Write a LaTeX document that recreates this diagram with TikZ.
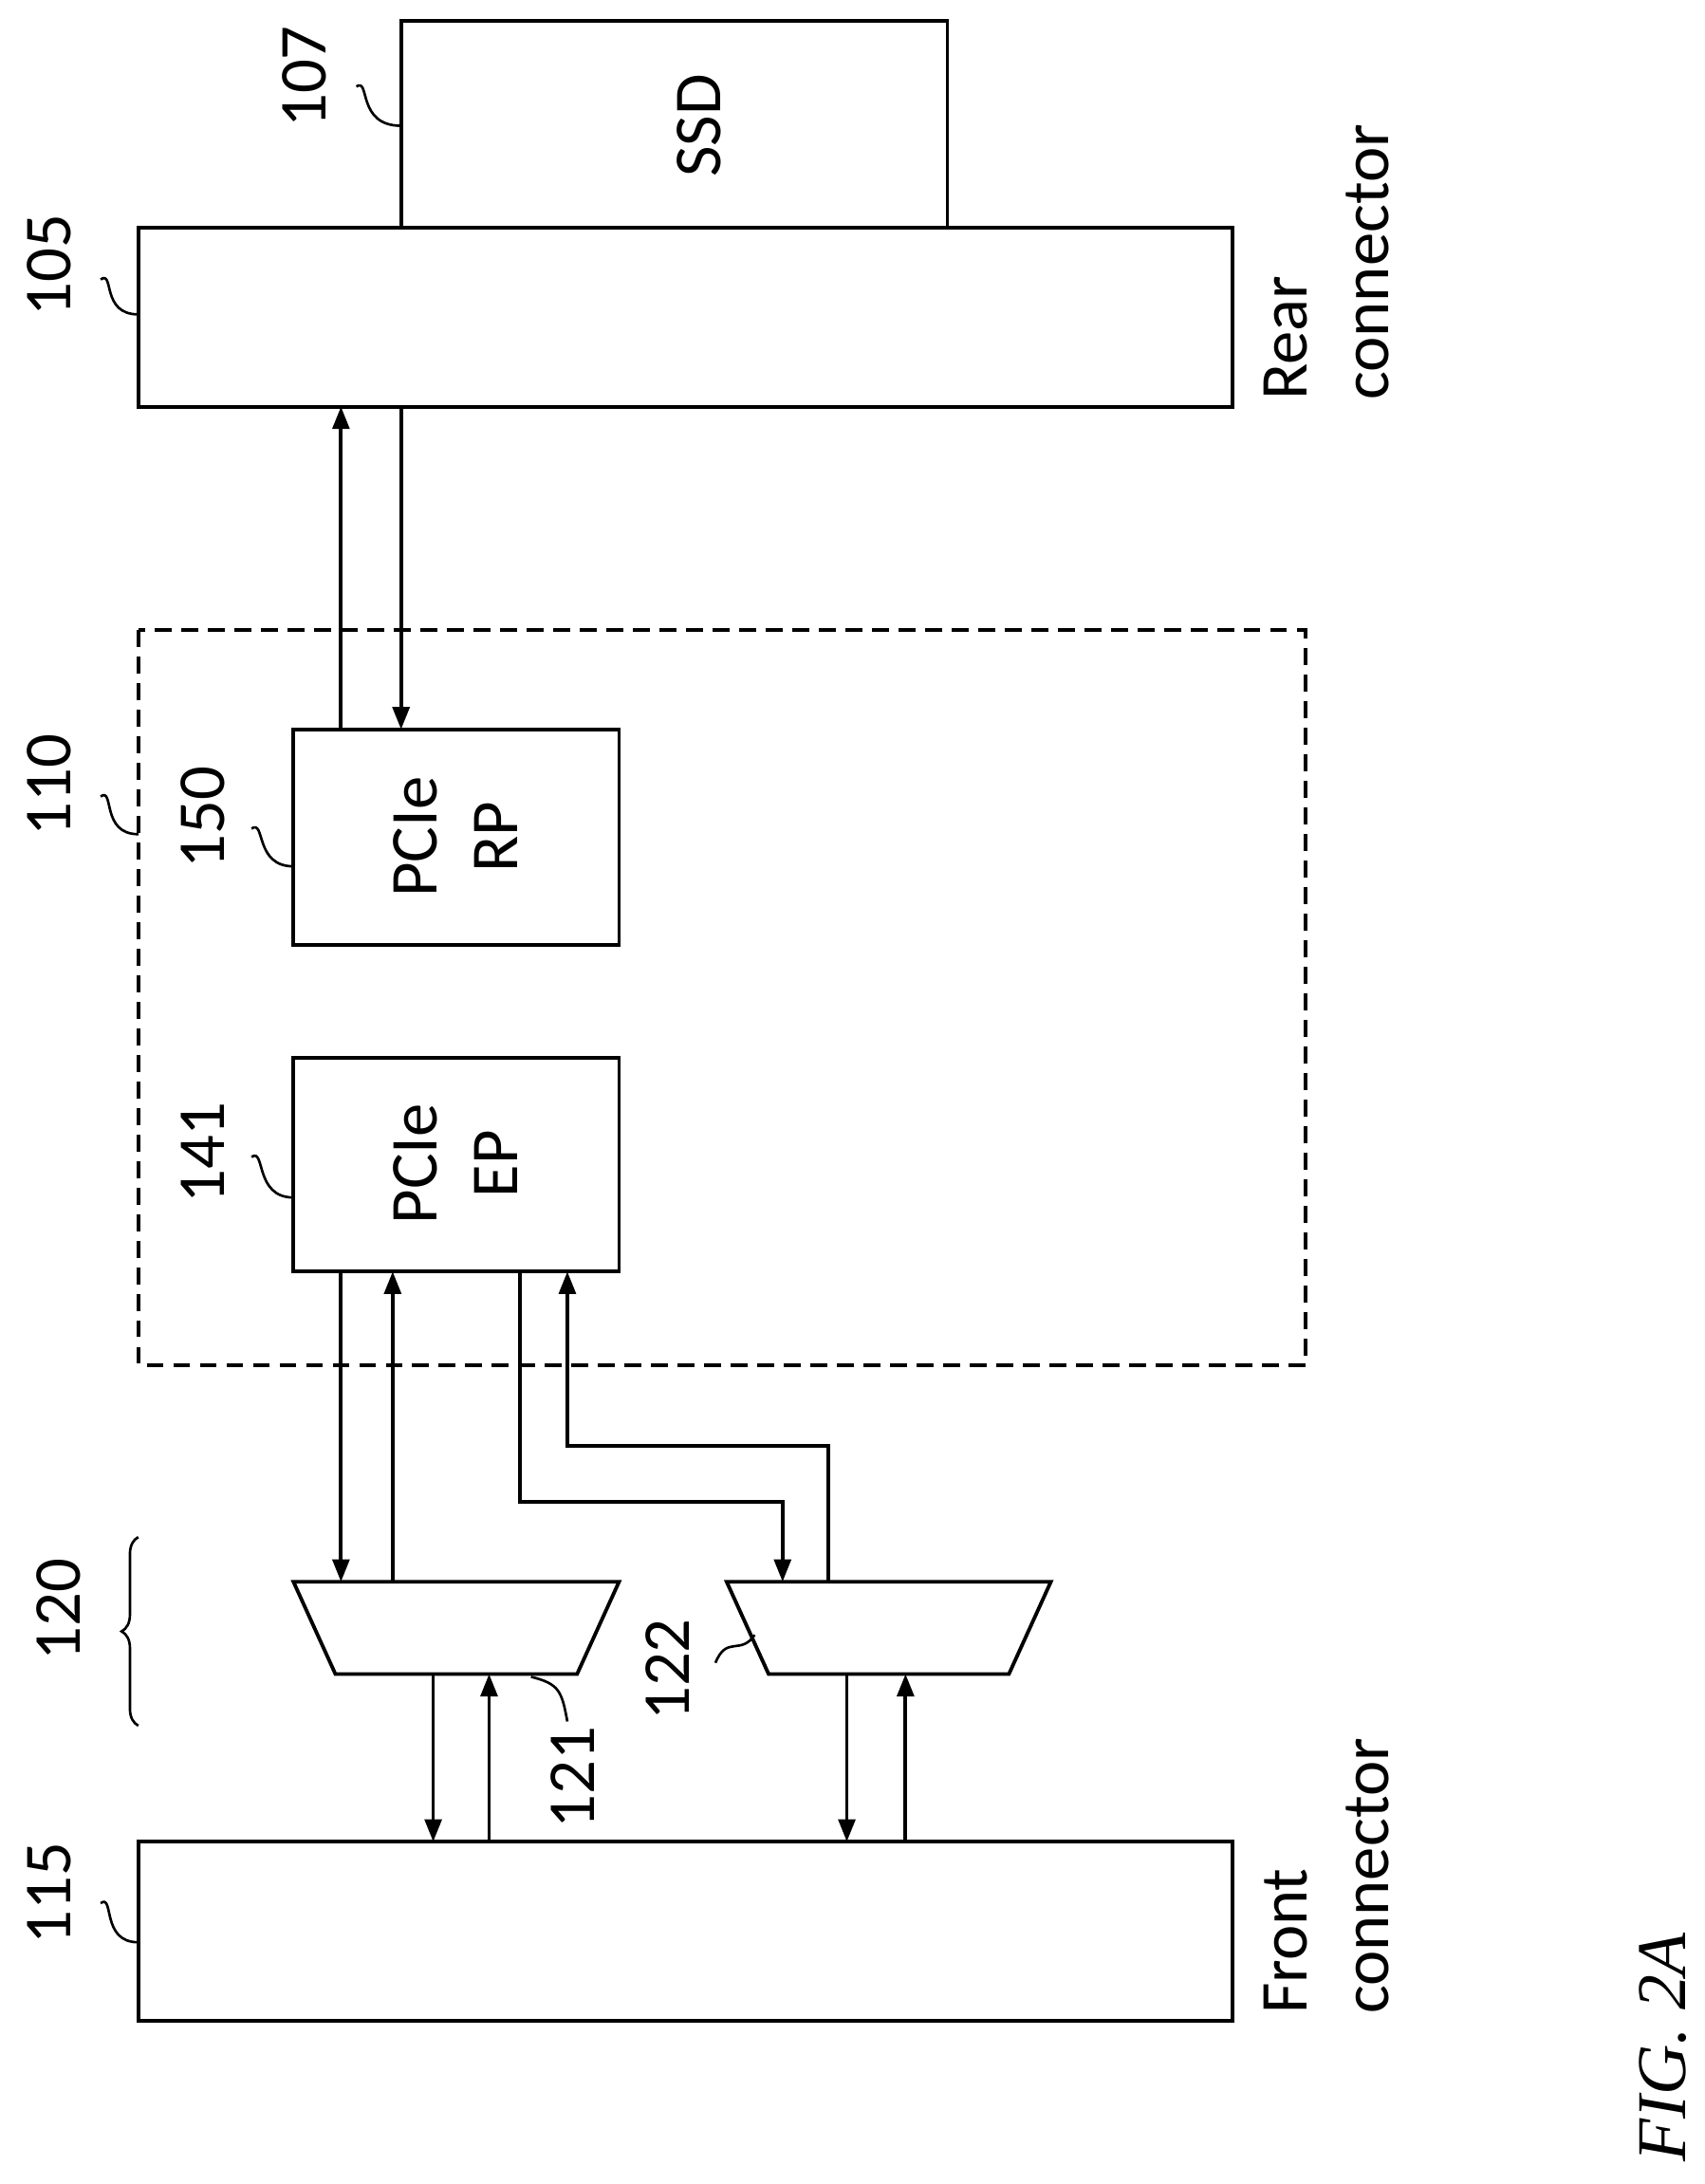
\documentclass[tikz,border=0pt]{standalone}
\usepackage{fontspec}
\setmainfont{Carlito}
\newfontfamily\figfont{Liberation Serif}
\usetikzlibrary{arrows.meta,decorations.pathreplacing}
\begin{document}
\begin{tikzpicture}[x=1pt,y=-1pt,line width=2.6pt,
 arr/.style={-{Triangle[length=16pt,width=12pt]}},
 lab/.style={rotate=90,font=\fontsize{48}{58}\selectfont},
 sq/.style={line width=1.8pt}]
\useasboundingbox (0,0) rectangle (1220,1563);
% boxes
\draw (287,15) rectangle (678,163);
\node[lab] (ssd) at (500,90) {SSD};
\draw (99,163) rectangle (882,291);
\node[lab,anchor=north west,align=left] (rearT) at (900,291) {Rear\\connector};
\draw[dash pattern=on 12pt off 7pt] (99,451) rectangle (934,977);
\draw (210,522) rectangle (443,676);
\node[lab,align=center] (rp) at (326,599) {PCIe\\RP};
\draw (210,757) rectangle (443,910);
\node[lab,align=center] (ep) at (326,833) {PCIe\\EP};
\draw (99,1318) rectangle (882,1446);
\node[lab,anchor=north west,align=left] (frontT) at (900,1446) {Front\\connector};
% muxes
\draw (210,1132) -- (443,1132) -- (413,1198) -- (240,1198) -- cycle;
\draw (520,1132) -- (752,1132) -- (722,1198) -- (550,1198) -- cycle;
% arrows
\draw[arr] (244,522) -- (244,291);
\draw[arr] (287,291) -- (287,522);
\draw[arr] (244,910) -- (244,1132);
\draw[arr] (281,1132) -- (281,910);
\draw[arr] (372,910) -- (372,1075) -- (560,1075) -- (560,1132);
\draw[arr] (593,1132) -- (593,1035) -- (406,1035) -- (406,910);
\draw[arr] (310,1198) -- (310,1318);
\draw[arr] (350,1318) -- (350,1198);
\draw[arr] (606,1198) -- (606,1318);
\draw[arr] (648,1318) -- (648,1198);
% brace
\draw[sq,decorate,decoration={brace,amplitude=12pt}] (99,1235) -- (99,1100);
% labels
\node[lab] (l107) at (218,55) {107};
\draw[sq] (255,62) .. controls (265,55) and (255,90) .. (287,90);
\node[lab] (l105) at (35,190) {105};
\draw[sq] (72,200) .. controls (82,193) and (72,225) .. (99,225);
\node[lab] (l110) at (35,562) {110};
\draw[sq] (72,570) .. controls (82,563) and (72,597) .. (99,597);
\node[lab] (l150) at (145,585) {150};
\draw[sq] (180,593) .. controls (190,586) and (182,620) .. (210,620);
\node[lab] (l141) at (145,825) {141};
\draw[sq] (180,828) .. controls (190,821) and (182,857) .. (210,857);
\node[lab] (l120) at (42,1152) {120};
\node[lab] (l121) at (410,1272) {121};
\draw[sq] (380,1200) .. controls (400,1205) and (402,1210) .. (406,1232);
\node[lab] (l122) at (478,1195) {122};
\draw[sq] (512,1190) .. controls (520,1170) and (530,1185) .. (540,1170);
\node[lab] (l115) at (35,1355) {115};
\draw[sq] (72,1362) .. controls (82,1355) and (72,1390) .. (99,1390);
\node[rotate=90,font=\figfont\itshape\fontsize{50}{60}\selectfont] (fig) at (1190,1465) {FIG. 2A};
\end{tikzpicture}
\end{document}
